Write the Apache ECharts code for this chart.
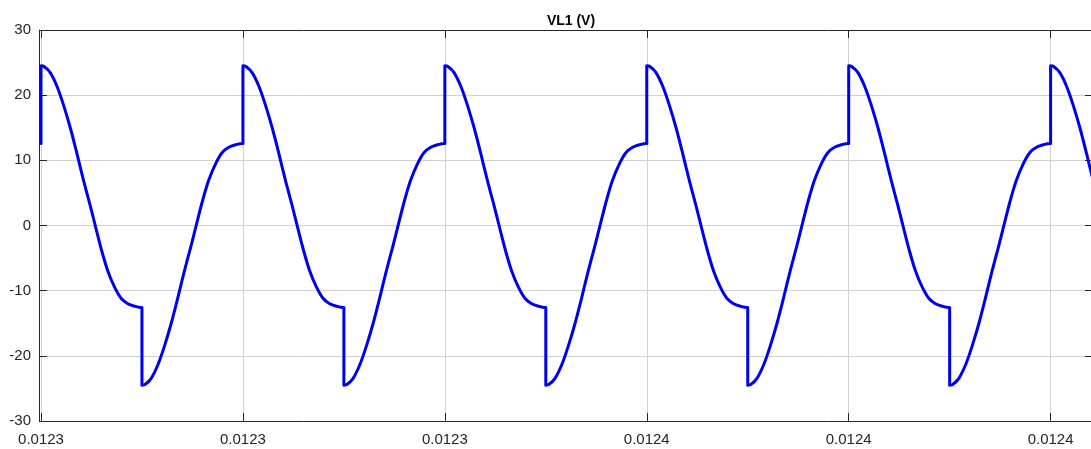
<!DOCTYPE html>
<html>
<head>
<meta charset="utf-8">
<script src="https://cdn.jsdelivr.net/npm/echarts@6/dist/echarts.min.js"></script>
<style>
	html,body{margin:0;padding:0;background:#fff;}
	#chart{width:1091px;height:449px;}
</style>
</head>
<body>
<div id="chart"></div>
<script>
// time in microseconds after 0.0123 s
var timeUs = [
	0, 0, 0.3, 0.9, 1.6, 2.25, 2.9, 3.55, 4.2, 4.85, 5.45, 6, 6.6, 7.3, 7.95, 8.6, 9.3, 9.9,
	10, 10, 10.3, 10.9, 11.6, 12.25, 12.9, 13.55, 14.2, 14.85, 15.45, 16, 16.6, 17.3, 17.95, 18.6, 19.3, 19.9,
	20, 20, 20.3, 20.9, 21.6, 22.25, 22.9, 23.55, 24.2, 24.85, 25.45, 26, 26.6, 27.3, 27.95, 28.6, 29.3, 29.9,
	30, 30, 30.3, 30.9, 31.6, 32.25, 32.9, 33.55, 34.2, 34.85, 35.45, 36, 36.6, 37.3, 37.95, 38.6, 39.3, 39.9,
	40, 40, 40.3, 40.9, 41.6, 42.25, 42.9, 43.55, 44.2, 44.85, 45.45, 46, 46.6, 47.3, 47.95, 48.6, 49.3, 49.9,
	50, 50, 50.3, 50.9, 51.6, 52.25, 52.9, 53.55, 54.2, 54.85, 55.45, 56, 56.6, 57.3, 57.95, 58.6, 59.3, 59.9,
	60, 60, 60.3, 60.9, 61.6, 62.25, 62.9, 63.55, 64.2, 64.85, 65.45, 66, 66.6, 67.3, 67.95, 68.6, 69.3, 69.9,
	70, 70, 70.3, 70.9, 71.6, 72.25, 72.9, 73.55, 74.2, 74.85, 75.45, 76, 76.6, 77.3, 77.95, 78.6, 79.3, 79.9,
	80, 80, 80.3, 80.9, 81.6, 82.25, 82.9, 83.55, 84.2, 84.85, 85.45, 86, 86.6, 87.3, 87.95, 88.6, 89.3, 89.9,
	90, 90, 90.3, 90.9, 91.6, 92.25, 92.9, 93.55, 94.2, 94.85, 95.45, 96, 96.6, 97.3, 97.95, 98.6, 99.3, 99.9,
	100, 100, 100.3, 100.9, 101.6, 102.25, 102.9, 103.55, 104.2, 104.85
];
// VL1 (V)
var vl1 = [
	12.6, 24.5, 24.4, 23.5, 21.3, 18.4, 15.0, 11.1, 7.0, 3.2, -0.5, -3.8, -6.9, -9.5, -11.2, -12.0, -12.4, -12.6,
	-12.6, -24.5, -24.4, -23.5, -21.3, -18.4, -15.0, -11.1, -7.0, -3.2, 0.5, 3.8, 6.9, 9.5, 11.2, 12.0, 12.4, 12.6,
	12.6, 24.5, 24.4, 23.5, 21.3, 18.4, 15.0, 11.1, 7.0, 3.2, -0.5, -3.8, -6.9, -9.5, -11.2, -12.0, -12.4, -12.6,
	-12.6, -24.5, -24.4, -23.5, -21.3, -18.4, -15.0, -11.1, -7.0, -3.2, 0.5, 3.8, 6.9, 9.5, 11.2, 12.0, 12.4, 12.6,
	12.6, 24.5, 24.4, 23.5, 21.3, 18.4, 15.0, 11.1, 7.0, 3.2, -0.5, -3.8, -6.9, -9.5, -11.2, -12.0, -12.4, -12.6,
	-12.6, -24.5, -24.4, -23.5, -21.3, -18.4, -15.0, -11.1, -7.0, -3.2, 0.5, 3.8, 6.9, 9.5, 11.2, 12.0, 12.4, 12.6,
	12.6, 24.5, 24.4, 23.5, 21.3, 18.4, 15.0, 11.1, 7.0, 3.2, -0.5, -3.8, -6.9, -9.5, -11.2, -12.0, -12.4, -12.6,
	-12.6, -24.5, -24.4, -23.5, -21.3, -18.4, -15.0, -11.1, -7.0, -3.2, 0.5, 3.8, 6.9, 9.5, 11.2, 12.0, 12.4, 12.6,
	12.6, 24.5, 24.4, 23.5, 21.3, 18.4, 15.0, 11.1, 7.0, 3.2, -0.5, -3.8, -6.9, -9.5, -11.2, -12.0, -12.4, -12.6,
	-12.6, -24.5, -24.4, -23.5, -21.3, -18.4, -15.0, -11.1, -7.0, -3.2, 0.5, 3.8, 6.9, 9.5, 11.2, 12.0, 12.4, 12.6,
	12.6, 24.5, 24.4, 23.5, 21.3, 18.4, 15.0, 11.1, 7.0, 3.2
];
var yTicks = [-30, -20, -10, 0, 10, 20, 30];
var tStart = 0.0123; // seconds at x = 0

var axisColor = '#262626';
var gridColor = '#d2d2d2';
var font = '"Liberation Sans", Arial, sans-serif';

var points = [];
for (var i = 0; i < timeUs.length; i++) {
	points.push([timeUs[i], vl1[i]]);
}

var myChart = echarts.init(document.getElementById('chart'));
var option = {
	backgroundColor: '#fff',
	animation: false,
	title: {
		text: 'VL1 (V)',
		left: 566,
		textAlign: 'center',
		top: 9,
		textStyle: {
			fontFamily: font,
			fontSize: 14,
			fontWeight: 'bold',
			color: '#000'
		}
	},
	grid: {
		left: 41,
		right: 0,
		top: 30,
		bottom: 28,
		containLabel: false
	},
	xAxis: [
		{
			type: 'value',
			min: 0,
			max: 104,
			interval: 20,
			position: 'bottom',
			axisLine: { show: true, onZero: false, lineStyle: { color: axisColor, width: 1 } },
			axisTick: { show: true, inside: true, length: 8, lineStyle: { color: axisColor } },
			axisLabel: {
				show: true,
				margin: 11,
				fontFamily: font,
				fontSize: 15,
				color: axisColor,
				showMaxLabel: false,
				formatter: function (v) {
					return (tStart + v * 1e-6).toFixed(4);
				}
			},
			splitLine: { show: true, lineStyle: { color: gridColor, width: 1 } }
		},
		{
			type: 'value',
			min: 0,
			max: 104,
			interval: 20,
			position: 'top',
			axisLine: { show: true, onZero: false, lineStyle: { color: axisColor, width: 1 } },
			axisTick: { show: true, inside: true, length: 8, lineStyle: { color: axisColor } },
			axisLabel: { show: false },
			splitLine: { show: false }
		}
	],
	yAxis: [
		{
			type: 'value',
			min: yTicks[0],
			max: yTicks[yTicks.length - 1],
			interval: 10,
			position: 'left',
			offset: 2,
			axisLine: { show: true, onZero: false, lineStyle: { color: axisColor, width: 1 } },
			axisTick: { show: true, inside: true, length: 8, lineStyle: { color: axisColor } },
			axisLabel: {
				margin: 8,
				fontFamily: font,
				fontSize: 15,
				color: axisColor
			},
			splitLine: { show: true, lineStyle: { color: gridColor, width: 1 } }
		},
		{
			type: 'value',
			min: yTicks[0],
			max: yTicks[yTicks.length - 1],
			interval: 10,
			position: 'right',
			axisLine: { show: true, onZero: false, lineStyle: { color: axisColor, width: 1 } },
			axisTick: { show: true, inside: true, length: 6, lineStyle: { color: axisColor } },
			axisLabel: { show: false },
			splitLine: { show: false }
		}
	],
	series: [
		{
			name: 'VL1',
			type: 'line',
			xAxisIndex: 0,
			yAxisIndex: 0,
			data: points,
			showSymbol: false,
			smooth: 0.3,
			clip: true,
			lineStyle: { color: '#0000f0', width: 3, join: 'round', cap: 'round' }
		}
	]
};
myChart.setOption(option);
</script>
</body>
</html>
